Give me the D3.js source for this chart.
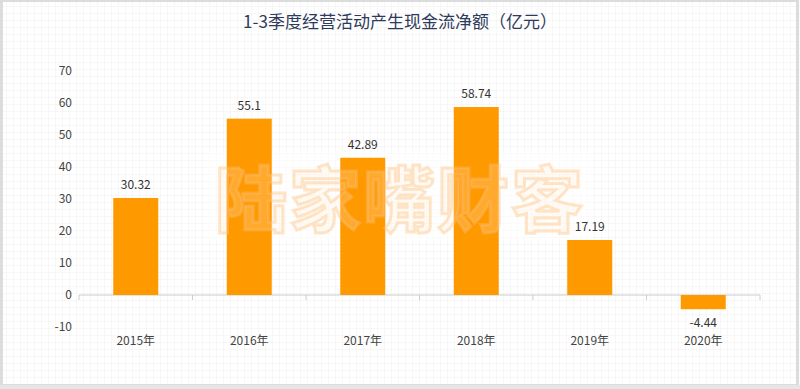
<!DOCTYPE html>
<html><head><meta charset="utf-8">
<script src="https://cdn.jsdelivr.net/npm/d3@7"></script>
<style>body{margin:0;background:#fff}svg{display:block}text{font-family:"Noto Sans CJK SC","Noto Sans",sans-serif}</style>
</head><body>
<script>
const categories = ["2015年","2016年","2017年","2018年","2019年","2020年"];
const values = [30.32, 55.1, 42.89, 58.74, 17.19, -4.44];
const valueLabels = ["30.32","55.1","42.89","58.74","17.19","-4.44"];
const yTicks = [-10,0,10,20,30,40,50,60,70];
const title = "1-3季度经营活动产生现金流净额（亿元）";
const watermark = "陆家嘴财客";

const W=800,H=389;
const svg=d3.select("body").append("svg").attr("width",W).attr("height",H);
const defs=svg.append("defs");
const pat=defs.append("pattern").attr("id","grid").attr("width",7).attr("height",7).attr("patternUnits","userSpaceOnUse");
pat.append("rect").attr("width",7).attr("height",7).attr("fill","#fff");
pat.append("path").attr("d","M7 0V7M0 7H7").attr("stroke","#f0f0f0").attr("stroke-width",1).attr("fill","none");
svg.append("rect").attr("width",W).attr("height",H).attr("fill","url(#grid)");
svg.append("rect").attr("x",1.5).attr("y",0.5).attr("width",W-4).attr("height",H-4).attr("fill","none").attr("stroke","#dcdcdc").attr("stroke-width",3);
svg.append("rect").attr("x",0).attr("y",H-4).attr("width",W).attr("height",4).attr("fill","#e6e6e6");

const x=d3.scaleBand().domain(categories).range([79,760]).paddingInner(0).paddingOuter(0);
const y=d3.scaleLinear().domain([-10,70]).range([327,71]);

svg.append("text").attr("x",400).attr("y",28).attr("text-anchor","middle").attr("font-size",17).attr("fill","#2e3a5c").text(title);

svg.append("g").selectAll("text").data(yTicks).join("text")
 .attr("x",72).attr("y",d=>y(d)+4).attr("text-anchor","end").attr("font-size",12).attr("fill","#444").text(d=>d);

// watermark backdrop (under bars)
svg.append("rect").attr("x",207).attr("y",152).attr("width",385).attr("height",88).attr("fill","rgba(255,255,255,0.5)");

const xa=svg.append("g").attr("transform",`translate(0,${y(0)})`);
xa.append("line").attr("x1",79).attr("x2",760).attr("stroke","#ccc");
xa.selectAll("line.t").data(d3.range(categories.length+1)).join("line").attr("class","t")
 .attr("x1",i=>79+i*x.bandwidth()).attr("x2",i=>79+i*x.bandwidth()).attr("y1",0).attr("y2",5).attr("stroke","#ccc");

svg.append("g").selectAll("text").data(categories).join("text")
 .attr("x",d=>x(d)+x.bandwidth()/2).attr("y",345).attr("text-anchor","middle").attr("font-size",12).attr("fill","#444").text(d=>d);

const bw=45;
svg.append("g").selectAll("rect").data(values).join("rect")
 .attr("x",(d,i)=>x(categories[i])+x.bandwidth()/2-bw/2).attr("width",bw)
 .attr("y",d=>y(Math.max(0,d))).attr("height",d=>Math.abs(y(d)-y(0)))
 .attr("fill","#ff9900");

svg.append("g").selectAll("text").data(values).join("text")
 .attr("x",(d,i)=>x(categories[i])+x.bandwidth()/2)
 .attr("y",d=>d>=0?y(d)-9:y(d)+18)
 .attr("text-anchor","middle").attr("font-size",12).attr("fill","#333").text((d,i)=>valueLabels[i]);

svg.append("text").attr("x",400).attr("y",226).attr("text-anchor","middle").attr("font-size",72).attr("font-weight","bold")
 .attr("fill","rgba(255,230,200,0.22)").attr("stroke","rgba(255,190,120,0.4)").attr("stroke-width",3).attr("letter-spacing",2).text(watermark);
</script>
</body></html>
